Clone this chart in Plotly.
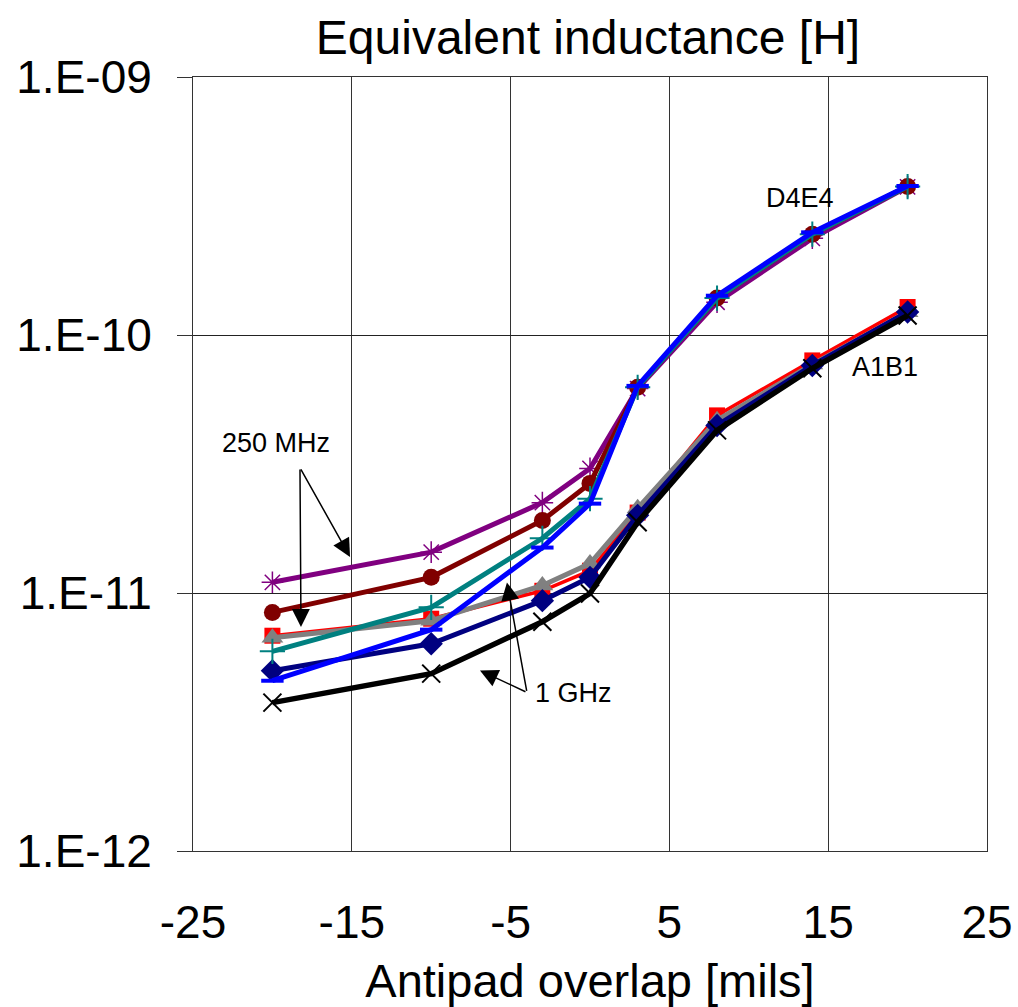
import plotly.graph_objects as go

x_vals = [-20, -10, -3, 0, 3, 8, 14, 20]

# D4E4 group
purple_star = [1.10e-11, 1.44e-11, 2.24e-11, 3.04e-11, 6.2e-11, 1.34e-10, 2.37e-10, 3.75e-10]
darkred_circle = [8.41e-12, 1.15e-11, 1.91e-11, 2.66e-11, 6.27e-11, 1.39e-10, 2.46e-10, 3.76e-10]
teal_plus = [5.94e-12, 8.80e-12, 1.63e-11, 2.32e-11, 6.27e-11, 1.39e-10, 2.46e-10, 3.76e-10]
blue_dash = [4.57e-12, 7.21e-12, 1.50e-11, 2.22e-11, 6.35e-11, 1.42e-10, 2.50e-10, 3.78e-10]

# A1B1 group
red_square = [6.83e-12, 7.95e-12, 1.02e-11, 1.22e-11, 2.05e-11, 4.88e-11, 7.97e-11, 1.284e-10]
gray_triangle = [6.71e-12, 7.81e-12, 1.07e-11, 1.30e-11, 2.13e-11, 4.67e-11, 7.69e-11, 1.225e-10]
navy_diamond = [5.00e-12, 6.36e-12, 9.34e-12, 1.15e-11, 2.00e-11, 4.46e-11, 7.62e-11, 1.228e-10]
black_x = [3.76e-12, 4.87e-12, 7.74e-12, 9.95e-12, 1.88e-11, 4.27e-11, 7.43e-11, 1.19e-10]

y_tickvals = [1e-12, 1e-11, 1e-10, 1e-9]
y_ticktext = ["1.E-12", "1.E-11", "1.E-10", "1.E-09"]
x_tickvals = [-25, -15, -5, 5, 15, 25]
x_ticktext = ["-25", "-15", "-5", "5", "15", "25"]

FONT = "Liberation Sans, Arial, sans-serif"

series = [
    (red_square, "#FF0000", "square", 16, 3.5, 0),
    (gray_triangle, "#808080", "triangle-up", 19, 5, 0),
    (navy_diamond, "#000080", "diamond", 18, 5, 0),
    (black_x, "#000000", "x-thin-open", 18, 5.5, 2),
    (purple_star, "#800080", "asterisk-open", 18, 5, 1.5),
    (darkred_circle, "#800000", "circle", 17, 5, 0),
    (teal_plus, "#008080", "cross-thin-open", 18, 5, 2),
    (blue_dash, "#0000FF", "line-ew-open", 16, 5, 4),
]

fig = go.Figure()
for ys, color, sym, size, lw, mlw in series:
    fig.add_trace(go.Scatter(
        x=x_vals, y=ys, mode="lines+markers",
        line=dict(color=color, width=lw),
        marker=dict(symbol=sym, size=size, color=color,
                    line=dict(color=color, width=mlw)),
        showlegend=False,
    ))

annotations = [
    dict(x=13.22, y=-9.470, text="D4E4", showarrow=False),
    dict(x=18.58, y=-10.125, text="A1B1", showarrow=False),
    dict(x=-19.77, y=-10.420, text="250 MHz", showarrow=False),
    dict(x=-1.07, y=-11.389, text="1 GHz", showarrow=False),
    dict(x=-18.2, y=-11.132, text="", showarrow=True, ax=-1, ay=-159),
    dict(x=-15.11, y=-10.860, text="", showarrow=True, ax=-50, ay=-89),
    dict(x=-6.93, y=-11.300, text="", showarrow=True, ax=47, ay=22),
    dict(x=-5.23, y=-10.959, text="", showarrow=True, ax=20, ay=110),
]
for a in annotations:
    a.update(xref="x", yref="y", font=dict(family=FONT, size=27, color="black"))
    if a["showarrow"]:
        a.update(arrowhead=2, arrowsize=2.4, arrowwidth=1.5, arrowcolor="black")
    fig.add_annotation(**a)

fig.update_layout(
    width=1018, height=1007,
    margin=dict(l=193, r=31, t=77, b=156),
    paper_bgcolor="white", plot_bgcolor="white",
    font=dict(family=FONT, color="black"),
    title=dict(text="Equivalent inductance [H]", x=588/1018, xanchor="center",
               y=1 - 37/1007, yanchor="middle", yref="container",
               font=dict(size=48, family=FONT, color="black")),
)
fig.update_xaxes(
    range=[-25, 25], tickvals=x_tickvals, ticktext=x_ticktext, ticks="", showgrid=True,
    gridcolor="#333333", gridwidth=1, zeroline=False, automargin=False,
    showline=True, linecolor="#333333", linewidth=1, mirror=True,
    tickfont=dict(size=46, family=FONT, color="black"),
    ticklabelstandoff=31,
    title=dict(text="Antipad overlap [mils]", font=dict(size=47, family=FONT, color="black"),
               standoff=20),
)
fig.update_yaxes(
    type="log", range=[-12, -9], tickvals=y_tickvals, ticktext=y_ticktext,
    ticks="outside", ticklen=15, tickcolor="#333333", tickwidth=1,
    showgrid=True, gridcolor="#222222", gridwidth=1, zeroline=False, automargin=False,
    showline=True, linecolor="#333333", linewidth=1, mirror=True,
    tickfont=dict(size=46, family=FONT, color="black"),
    ticklabelstandoff=16,
)

fig.write_html("out.html")
